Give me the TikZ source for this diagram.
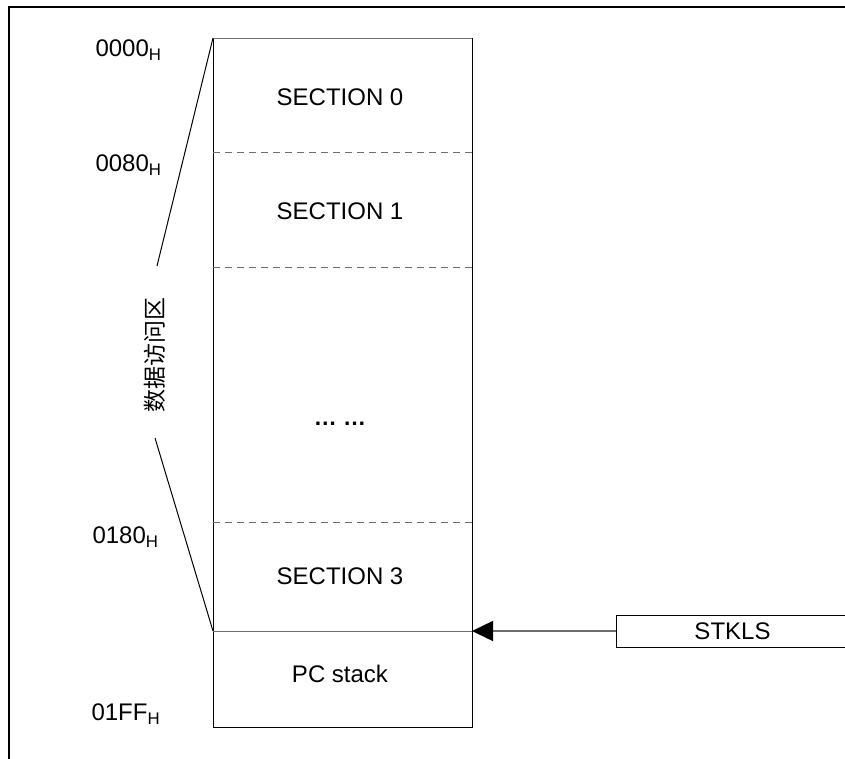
\documentclass[tikz,border=0pt]{standalone}
\usepackage{fontspec}
\setsansfont{Liberation Sans}
\newfontfamily\cjk{Noto Sans CJK SC}
\usetikzlibrary{arrows.meta, positioning, calc}
\definecolor{cline}{HTML}{6E6E6E}
\tikzset{
  every picture/.style={font=\sffamily\fontsize{24}{28}\selectfont, line width=1pt},
  seclabel/.style={inner sep=0pt},
  addr/.style={anchor=west, inner sep=0pt},
  divider/.style={draw=cline, dash pattern=on 7pt off 5pt},
  arrow/.style={-{Triangle[length=21pt, width=20pt, color=black]}, draw=cline, line width=1.5pt},
}
\begin{document}
\begin{tikzpicture}[x=1pt, y=-1pt]
  \useasboundingbox (0,0) rectangle (845,758);
  % page frame
  \draw[line width=2.5pt] (9,770) -- (9,7) -- (860,7);
  % memory map
  \coordinate (tl) at (213,38);
  \coordinate (tr) at (472,38);
  \coordinate (bl) at (213,727);
  \coordinate (br) at (472,727);
  \coordinate (sl) at (213,631);
  \coordinate (sr) at (472,631);
  \draw (tl) -- (bl) -- (br) -- (tr);
  \draw[cline] (tl) -- (tr);
  \draw[cline] (sl) -- (sr);
  \foreach \y in {152, 267, 522}
    \draw[divider] (213,\y) -- (472,\y);
  \node[seclabel] (sec0) at (340,97) {SECTION 0};
  \node[seclabel] (sec1) at (340,211) {SECTION 1};
  \node[seclabel, font=\sffamily\bfseries\fontsize{23}{27}\selectfont] (secdots) at (340,424) {\dots\ \dots};
  \node[seclabel] (sec3) at (340,576) {SECTION 3};
  \node[seclabel] (pcstack) at (340,674) {PC stack};
  % addresses
  \node[addr] (a0000) at (95,50) {0000\textsubscript{H}};
  \node[addr] (a0080) at (95,165) {0080\textsubscript{H}};
  \node[addr] (a0180) at (92,537) {0180\textsubscript{H}};
  \node[addr] (a01ff) at (91,714) {01FF\textsubscript{H}};
  % data access area
  \node[rotate=90, inner sep=0pt, font=\cjk\fontsize{23}{27}\selectfont] (area) at (155,355) {数据访问区};
  \coordinate (areatop) at (157,266);
  \coordinate (areabot) at (155,438);
  \draw (tl) -- (areatop);
  \draw (areabot) -- (sl);
  % stack pointer
  \node[draw, minimum width=232pt, minimum height=32pt, anchor=west, inner sep=0pt] (stkls) at (616,631) {STKLS};
  \draw[arrow] (stkls.west) -- (sr);
\end{tikzpicture}
\end{document}
